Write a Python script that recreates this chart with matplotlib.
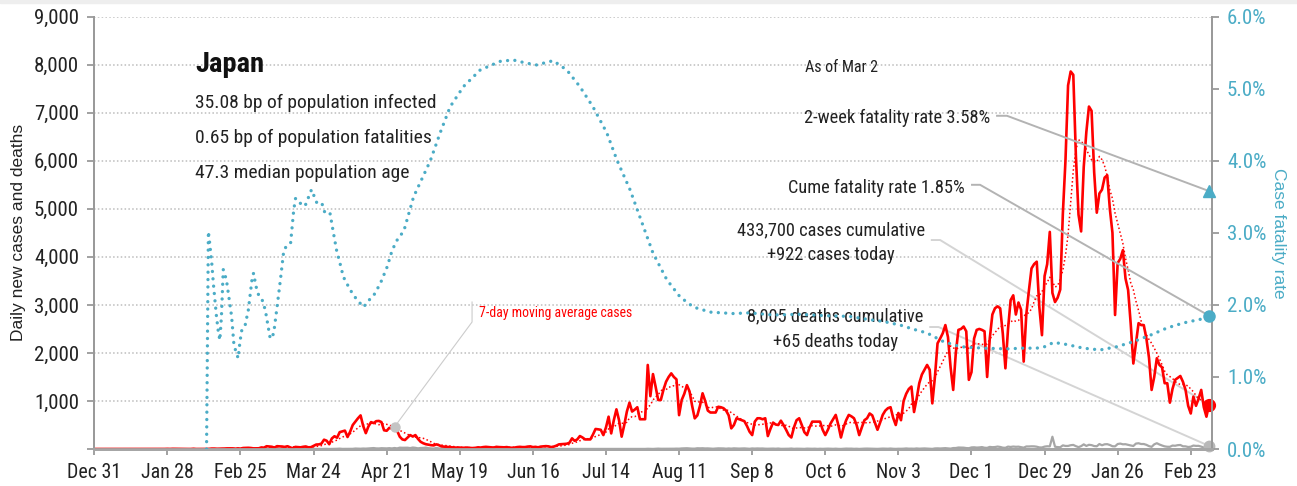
import pandas as pd
import matplotlib
matplotlib.use("Agg")
import matplotlib.pyplot as plt
import matplotlib.ticker as mticker
from matplotlib.patches import Rectangle

NARROW = ["Roboto Condensed", "Archivo Narrow", "Liberation Sans Narrow", "DejaVu Sans"]
PLAIN = ["Liberation Sans", "DejaVu Sans"]
plt.rcParams["font.family"] = NARROW

start = pd.Timestamp("2019-12-31")

# daily new cases, one row per week (weeks start Tuesday Dec 31 2019)
cases_weeks = [
    [0, 0, 0, 0, 0, 0, 0], [0, 0, 0, 0, 0, 0, 0], [0, 0, 1, 0, 0, 0, 0],
    [0, 0, 0, 1, 1, 0, 1], [3, 1, 4, 3, 0, 0, 0], [0, 0, 0, 5, 0, 0, 1],
    [0, 1, 3, 9, 9, 5, 6], [9, 10, 13, 13, 13, 6, 13], [8, 21, 23, 25, 21, 13, 15],
    [15, 33, 28, 58, 53, 47, 30], [59, 55, 51, 43, 58, 34, 15], [44, 39, 35, 46, 53, 35, 38],
    [65, 93, 96, 112, 194, 173, 100], [220, 266, 235, 351, 368, 383, 250],
    [360, 500, 570, 640, 700, 480, 330], [470, 560, 540, 580, 585, 560, 390],
    [380, 440, 430, 440, 380, 257, 200], [187, 240, 290, 260, 290, 210, 150],
    [120, 100, 90, 80, 75, 97, 80], [55, 50, 45, 40, 35, 30, 30],
    [30, 25, 28, 30, 22, 20, 25], [35, 30, 40, 45, 40, 35, 30],
    [45, 40, 38, 35, 40, 30, 25], [30, 40, 45, 40, 40, 50, 55],
    [40, 45, 35, 50, 55, 60, 55], [40, 50, 70, 97, 100, 105, 110],
    [130, 222, 170, 200, 270, 240, 200], [200, 200, 300, 417, 410, 400, 290],
    [450, 673, 325, 600, 826, 600, 257], [500, 780, 965, 780, 820, 870, 620],
    [620, 620, 1750, 1100, 1560, 1300, 1020], [1020, 1230, 1400, 1500, 1575, 1500, 1450],
    [705, 1020, 1150, 1330, 1200, 900, 638], [700, 900, 1160, 1000, 800, 760, 760],
    [760, 880, 870, 850, 800, 700, 430], [500, 640, 620, 600, 580, 480, 360],
    [290, 570, 640, 640, 620, 640, 270], [420, 550, 510, 500, 590, 500, 400],
    [290, 240, 450, 600, 640, 500, 350], [290, 450, 570, 570, 570, 570, 400],
    [290, 400, 530, 620, 710, 500, 240], [450, 600, 710, 680, 640, 500, 290],
    [450, 600, 640, 740, 700, 550, 400], [550, 710, 800, 850, 870, 650, 500],
    [750, 600, 1000, 1150, 1250, 1300, 770], [1050, 1370, 1550, 1650, 1750, 1650, 950],
    [1500, 2200, 2300, 2410, 2580, 2330, 1700], [1230, 2000, 2480, 2500, 2550, 2450, 1440],
    [1600, 2300, 2480, 2500, 2480, 2450, 1500], [2300, 2800, 2930, 2970, 2930, 2400, 1680],
    [2500, 3100, 3200, 2800, 3050, 2900, 1820], [2800, 3300, 3760, 3850, 3900, 2950, 2370],
    [3600, 3850, 4520, 3250, 3060, 3150, 3320], [4900, 6000, 7570, 7860, 7790, 6100, 4880],
    [4530, 5870, 6600, 7130, 7040, 5760, 4920], [5320, 5400, 5650, 5700, 5000, 4500, 2790],
    [3870, 3960, 4140, 3550, 3310, 2600, 1780], [2200, 2620, 2580, 2580, 2300, 1900, 1230],
    [1500, 1890, 1750, 1700, 1370, 1370, 965], [1250, 1440, 1480, 1520, 1400, 1230, 900],
    [740, 1090, 900, 1050, 1230, 870, 673],
]
cases_last = [922]

# daily new deaths, same weeks
deaths_weeks = [
    [0, 0, 0, 0, 0, 0, 0], [0, 0, 0, 0, 0, 0, 0], [0, 0, 0, 0, 0, 0, 0],
    [0, 0, 0, 0, 0, 0, 0], [0, 0, 0, 0, 0, 0, 0], [0, 0, 0, 0, 0, 0, 0],
    [0, 0, 1, 0, 0, 0, 0], [0, 0, 0, 1, 0, 0, 0], [0, 1, 1, 0, 1, 0, 1],
    [0, 0, 0, 1, 0, 0, 1], [1, 1, 0, 2, 1, 1, 0], [1, 1, 1, 0, 3, 2, 1],
    [2, 1, 3, 1, 3, 4, 1], [2, 3, 5, 8, 3, 3, 2], [4, 4, 10, 7, 6, 10, 8],
    [12, 17, 20, 13, 12, 17, 16], [13, 18, 12, 21, 13, 28, 26], [27, 27, 19, 31, 25, 14, 21],
    [23, 29, 17, 14, 9, 21, 12], [10, 18, 20, 16, 15, 8, 11], [9, 11, 8, 5, 6, 11, 2],
    [4, 12, 7, 12, 8, 7, 4], [3, 4, 5, 3, 7, 2, 2], [2, 1, 1, 5, 4, 2, 1],
    [2, 1, 3, 1, 1, 2, 0], [1, 2, 1, 2, 2, 0, 1], [1, 1, 1, 0, 1, 2, 1],
    [0, 2, 2, 0, 0, 2, 1], [1, 1, 1, 2, 1, 1, 0], [0, 1, 1, 2, 1, 3, 1],
    [2, 2, 5, 3, 2, 6, 8], [5, 5, 7, 7, 4, 6, 8], [7, 12, 13, 16, 11, 8, 8],
    [16, 14, 16, 12, 13, 10, 6], [11, 14, 14, 12, 7, 12, 8], [14, 11, 9, 12, 13, 8, 5],
    [12, 9, 12, 10, 11, 7, 6], [8, 9, 6, 10, 4, 4, 3], [6, 10, 4, 7, 7, 5, 3],
    [8, 6, 5, 7, 3, 6, 4], [7, 8, 6, 4, 7, 3, 2], [5, 9, 7, 8, 4, 6, 2],
    [6, 8, 9, 7, 5, 4, 3], [7, 9, 8, 6, 10, 5, 3], [6, 5, 7, 12, 7, 8, 6],
    [12, 7, 9, 12, 10, 6, 3], [12, 14, 11, 15, 18, 13, 8], [20, 21, 31, 29, 28, 20, 17],
    [33, 36, 30, 33, 40, 27, 24], [44, 38, 41, 51, 43, 28, 25], [50, 43, 51, 46, 49, 38, 28],
    [53, 53, 56, 55, 48, 33, 32], [50, 57, 55, 256, 48, 40, 37], [76, 64, 64, 79, 85, 59, 39],
    [60, 97, 64, 88, 81, 62, 57], [104, 78, 98, 101, 84, 58, 55], [104, 113, 98, 100, 86, 74, 63],
    [113, 120, 104, 104, 87, 60, 45], [97, 121, 94, 73, 55, 47, 46], [72, 68, 80, 84, 57, 55, 42],
    [48, 72, 65, 66, 50, 30, 41],
]
deaths_last = [65]

# case fatality rate (%): day offset from Dec 31 2019
cfr_day = [43, 43.7, 44.2, 45, 45.6, 46.2, 46.8, 47.5, 48.1, 48.7, 49.4, 50.6, 51.7, 52.6,
           53.5, 55.1, 55.8, 56.5, 57.8, 59, 60.4, 61, 62, 63, 64.3, 65.5, 66.4, 67.4,
           68.7, 70, 71.3, 72.6, 73.9, 75.2, 76.4, 77.1, 78.5, 80.7, 83.2, 85.2, 87.1,
           88.4, 90.3, 91.6, 92.8, 94.1, 95.4, 98, 100.6, 103.2, 104.5, 107, 109.6,
           112.2, 114.1, 116, 118.6, 122.3, 128.7, 132.5, 136.3, 141.4, 147.8, 155.4,
           160.4, 165, 169.5, 172.5, 175.8, 181, 186, 191, 196.3, 200.2, 205.2, 209,
           214, 219.3, 224.4, 229.5, 236, 244.8, 251, 260, 270, 280, 289.5, 296, 302.3,
           308.7, 314, 319, 325.3, 331.7, 340.5, 349.6, 356, 361, 364, 367.5, 372.6,
           378.8, 385.3, 391.7, 398, 404.5, 410.9, 417.2, 423.6, 427]
cfr_pct = [0.0, 3.02, 2.86, 2.58, 2.30, 2.07, 1.84, 1.63, 1.51, 1.84, 2.49, 2.35, 2.07, 1.84,
           1.44, 1.26, 1.49, 1.65, 1.72, 1.93, 2.35, 2.44, 2.25, 2.13, 2.07, 1.93, 1.74, 1.53,
           1.60, 1.97, 2.35, 2.76, 2.83, 2.86, 3.32, 3.48, 3.42, 3.37, 3.60, 3.42, 3.42,
           3.27, 3.27, 3.00, 2.76, 2.58, 2.39, 2.21, 2.07, 1.97, 2.04, 2.13, 2.30,
           2.53, 2.76, 2.90, 3.03, 3.50, 4.00, 4.39, 4.75, 5.03, 5.26, 5.38,
           5.40, 5.36, 5.33, 5.36, 5.39, 5.26, 5.03, 4.75, 4.39, 4.01, 3.60, 3.22,
           2.72, 2.35, 2.11, 1.97, 1.90, 1.88, 1.89, 1.86, 1.87, 1.85, 1.84, 1.80, 1.77,
           1.72, 1.66, 1.61, 1.49, 1.42, 1.40, 1.39, 1.40, 1.40, 1.42, 1.48, 1.45,
           1.40, 1.375, 1.42, 1.49, 1.58, 1.68, 1.75, 1.80, 1.85]

tick_labels = ["Dec 31", "Jan 28", "Feb 25", "Mar 24", "Apr 21", "May 19", "Jun 16",
               "Jul 14", "Aug 11", "Sep 8", "Oct 6", "Nov 3", "Dec 1", "Dec 29",
               "Jan 26", "Feb 23"]

country = "Japan"
stats_lines = ["35.08 bp of population infected",
               "0.65 bp of population fatalities",
               "47.3 median population age"]
as_of = "As of Mar 2"
two_week_rate = 3.58
cume_rate = 1.85
cases_total = "433,700"
deaths_total = "8,005"
ma_note_day = 115

cases = [v for w in cases_weeks for v in w] + cases_last
deaths = [v for w in deaths_weeks for v in w] + deaths_last
dates = pd.date_range(start, periods=len(cases), freq="D")
ma = pd.Series(cases).rolling(7, min_periods=1).mean()
cfr_dates = start + pd.to_timedelta(cfr_day, unit="D")


def d(day):
    return start + pd.Timedelta(days=day)


TEAL = "#4bacc6"
RED = "#ff0000"
TXT = "#222222"

fig = plt.figure(figsize=(12.97, 4.86), dpi=100)
fig.patches.append(Rectangle((0, 0.993), 1, 0.007, transform=fig.transFigure,
                             color="#eeeeee", zorder=0))
ax = fig.add_axes([0.0727, 0.0761, 0.8615, 0.8895])
ax2 = ax.twinx()

ax.set_ylim(0, 9000)
ax.set_xlim(start, d(428))
ax2.set_ylim(0, 6)

ax.yaxis.set_major_locator(mticker.MultipleLocator(1000))
ax.yaxis.set_major_formatter(mticker.FuncFormatter(lambda v, p: "" if v == 0 else f"{v:,.0f}"))
ax.grid(axis="y", color="#bdbdbd", ls=(0, (1, 1.5)), lw=1.1)
ax.set_axisbelow(True)

ax.set_xticks([d(28 * i) for i in range(len(tick_labels))])
ax.set_xticklabels(tick_labels)

ax2.yaxis.set_major_locator(mticker.MultipleLocator(1))
ax2.yaxis.set_major_formatter(mticker.FuncFormatter(lambda v, p: f"{v:.1f}%"))

for a in (ax, ax2):
    a.spines["top"].set_visible(False)
    for s in ("left", "right"):
        a.spines[s].set_color("#9a9a9a")
        a.spines[s].set_linewidth(1.4)
    a.spines["bottom"].set_color("#a6a6a6")
    a.spines["bottom"].set_linewidth(2)

ax.tick_params(axis="x", length=4, width=1.3, color="#9a9a9a", labelsize=14.3, pad=6,
               labelcolor=TXT)
ax.tick_params(axis="y", length=5, width=1.3, color="#9a9a9a", labelsize=15, pad=6,
               labelcolor=TXT)
ax2.tick_params(axis="y", length=5, width=1.3, color="#9a9a9a", labelsize=15, pad=6,
                labelcolor=TEAL)

ax.set_ylabel("Daily new cases and deaths", family=PLAIN,
              fontsize=12.5, color=TXT, labelpad=6)
ax2.set_ylabel("Case fatality rate", family=PLAIN,
               fontsize=12.5, color=TEAL, rotation=270, labelpad=14)

# series
ax.plot(dates, ma, color=RED, lw=1.1, ls=(0, (1, 1.6)), zorder=3)
ax.plot(dates, deaths, color="#a6a6a6", lw=1.6, zorder=3)
ax.plot(dates, cases, color=RED, lw=1.9, zorder=4, solid_joinstyle="round")
ax2.plot(cfr_dates, cfr_pct, color=TEAL, lw=2.4, ls=(0, (0.01, 2.2)),
         dash_capstyle="round", zorder=3)

# end markers
ax.plot(dates[-1], cases[-1], "o", color=RED, ms=8.5, clip_on=False, zorder=6)
ax.plot(dates[-1], deaths[-1], "o", color="#b8b8b8", ms=7.5, clip_on=False, zorder=6)
ax2.plot(dates[-1], cume_rate, "o", color=TEAL, ms=8, clip_on=False, zorder=6)
ax2.plot(dates[-1], two_week_rate, "^", color=TEAL, ms=9, clip_on=False, zorder=6)
ax.plot(d(ma_note_day), ma[ma_note_day], "o", color="#c4c4c4", ms=6.5, zorder=6)

# leader lines
ax2.plot([d(345.8), d(349.6), dates[-1]], [4.625, 4.625, two_week_rate],
         color="#b3b3b3", lw=1.4, zorder=2)
ax2.plot([d(336.2), d(339.3), dates[-1]], [3.667, 3.667, cume_rate],
         color="#b3b3b3", lw=1.4, zorder=2)
ax.plot([d(320.8), d(324), dates[-1]], [4351, 4351, cases[-1]],
        color="#d4d4d4", lw=1.4, zorder=2)
ax.plot([d(320.2), d(323.4), dates[-1]], [2540, 2540, deaths[-1]],
        color="#d4d4d4", lw=1.4, zorder=2)
ax.plot([d(144.7), d(144.7), d(ma_note_day)], [3060, 2644, ma[ma_note_day]],
        color="#cccccc", lw=0.8, zorder=2)

# text
ax.text(d(38.6), 7855, country, fontsize=20.5, fontweight="bold", color="#111111",
        va="baseline")
for y, s in zip([7093, 6365, 5636], stats_lines):
    ax.text(d(38.6), y, s, fontsize=14, color=TXT, va="baseline")
ax.text(d(272.3), 7855, as_of, fontsize=11.5, color=TXT, va="baseline")
ax.text(d(343.2), 6781, f"2-week fatality rate {two_week_rate:.2f}%", fontsize=13.2,
        color=TXT, ha="right", va="baseline")
ax.text(d(333.6), 5337, f"Cume fatality rate {cume_rate:.2f}%", fontsize=13.2,
        color=TXT, ha="right", va="baseline")
ax.text(d(282.3), 4455, f"{cases_total} cases cumulative", fontsize=13.2, color=TXT,
        ha="center", va="baseline")
ax.text(d(282.3), 3935, f"+{cases[-1]} cases today", fontsize=13.2, color=TXT,
        ha="center", va="baseline")
ax.text(d(283.8), 2650, f"{deaths_total} deaths cumulative", fontsize=13.2, color=TXT,
        ha="center", va="baseline")
ax.text(d(283.8), 2130, f"+{deaths[-1]} deaths today", fontsize=13.2, color=TXT,
        ha="center", va="baseline")
ax.text(d(147.4), 2755, "7-day moving average cases", fontsize=9.9, color=RED,
        va="baseline")

fig.savefig("out.png", dpi=100)
